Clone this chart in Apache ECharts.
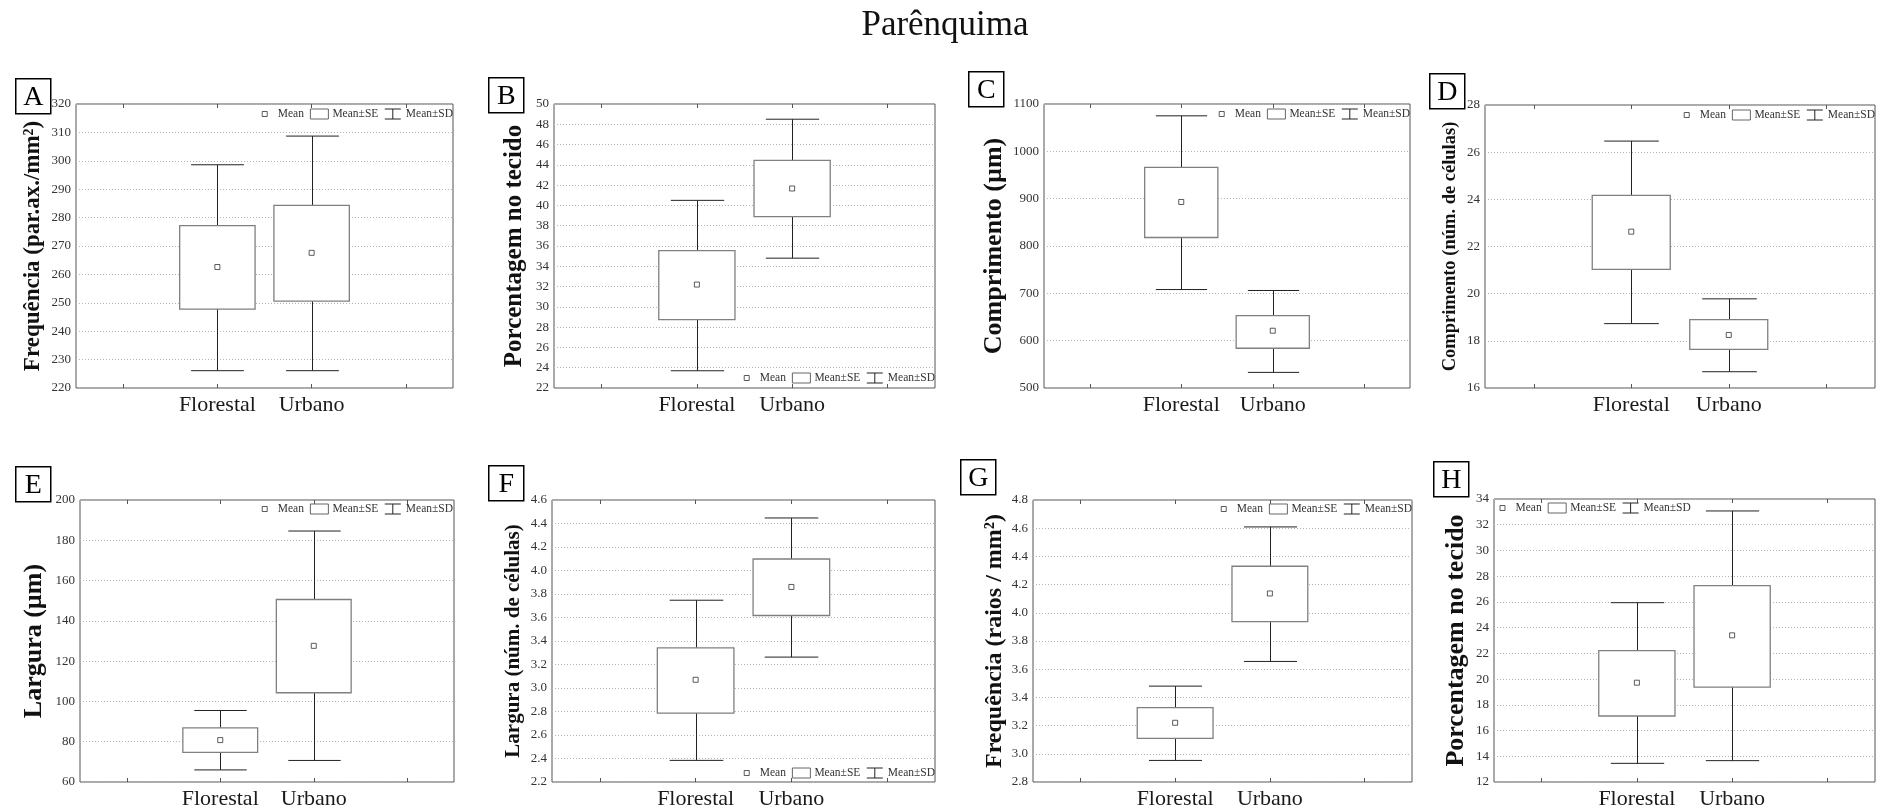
<!DOCTYPE html>
<html>
<head>
<meta charset="utf-8">
<script src="https://cdn.jsdelivr.net/npm/echarts@6/dist/echarts.min.js"></script>
<style>
html,body{margin:0;padding:0;background:#fff;}
#chart{width:1890px;height:811px;}
</style>
</head>
<body>
<div id="chart"></div>
<script>
// ---------------- DATA ----------------
const chartTitle = 'Parênquima';
const categories = ['Florestal', 'Urbano'];
const panelLetters = ['A', 'B', 'C', 'D', 'E', 'F', 'G', 'H'];
const yAxisTitles = [
  'Frequência (par.ax./mm\u00b2)',
  'Porcentagem no tecido',
  'Comprimento (\u00b5m)',
  'Comprimento (núm. de células)',
  'Largura (\u00b5m)',
  'Largura (núm. de células)',
  'Frequência (raios / mm\u00b2)',
  'Porcentagem no tecido'
];
const yMin  = [220, 22, 500, 16, 60, 2.2, 2.8, 12];
const yMax  = [320, 50, 1100, 28, 200, 4.6, 4.8, 34];
const yStep = [10, 2, 100, 2, 20, 0.2, 0.2, 2];
const yDecimals = [0, 0, 0, 0, 0, 1, 1, 0];
const legendNames = ['Mean', 'Mean\u00b1SE', 'Mean\u00b1SD'];
// per panel: [Florestal, Urbano]
const meanVals = [[262.6, 267.6], [32.2, 41.67], [893, 621], [22.63, 18.25], [80.8, 127.6], [3.07, 3.86], [3.22, 4.137], [19.72, 23.4]];
const seLower  = [[247.8, 250.6], [28.75, 38.9], [818, 584], [21.03, 17.64], [74.7, 104.3], [2.787, 3.617], [3.109, 3.938], [17.13, 19.38]];
const seUpper  = [[277.2, 284.3], [35.55, 44.45], [966, 653], [24.17, 18.9], [86.9, 150.6], [3.342, 4.098], [3.327, 4.33], [22.21, 27.26]];
const sdLower  = [[226.1, 226.1], [23.7, 34.8], [708, 533], [18.73, 16.69], [66.0, 70.7], [2.384, 3.263], [2.953, 3.655], [13.45, 13.66]];
const sdUpper  = [[298.6, 308.7], [40.5, 48.5], [1075, 706], [26.47, 19.78], [95.5, 184.6], [3.747, 4.447], [3.48, 4.609], [25.94, 33.07]];

// ---------------- LAYOUT ----------------
const FONT = '"Liberation Serif", "Times New Roman", serif';
const grids = [
  {left: 76,   top: 104, width: 377, height: 284},
  {left: 554,  top: 104, width: 381, height: 284},
  {left: 1044, top: 104, width: 366, height: 284},
  {left: 1485, top: 105, width: 390, height: 283},
  {left: 80,   top: 500, width: 374, height: 282},
  {left: 552,  top: 500, width: 383, height: 282},
  {left: 1033, top: 500, width: 379, height: 282},
  {left: 1494, top: 499, width: 381, height: 283}
];
const titleFont = [23, 25, 26, 18.5, 26, 21, 24, 26];
const titleGap  = [31, 27, 37, 25, 33, 28, 26, 25];
const letterPos = [[15,78],[488,77],[968,71],[1429,73],[15,466],[488,465],[960,459],[1433,461]];
// legend placement: [side, x, top]
const legendPos = [
  {right: 1890-453, top: 108},
  {right: 1890-935, top: 372},
  {right: 1890-1410, top: 108},
  {right: 1890-1875, top: 109},
  {right: 1890-453, top: 503},
  {right: 1890-935, top: 767},
  {right: 1890-1412, top: 503},
  {left: 1493, top: 502}
];

const axisCats = [''].concat(categories, ['']);

function renderWhisker(params, api) {
  const x = api.value(0);
  const lo = api.coord([x, api.value(1)]);
  const sl = api.coord([x, api.value(2)]);
  const sh = api.coord([x, api.value(3)]);
  const hi = api.coord([x, api.value(4)]);
  const band = api.size([1, 0])[0];
  const half = band * 0.28;
  const cx = Math.round(lo[0]) + 0.5;
  const st = {stroke: '#222', lineWidth: 1};
  return {type: 'group', children: [
    {type: 'line', shape: {x1: cx, y1: lo[1], x2: cx, y2: sl[1]}, style: st},
    {type: 'line', shape: {x1: cx, y1: sh[1], x2: cx, y2: hi[1]}, style: st},
    {type: 'line', shape: {x1: cx - half, y1: lo[1], x2: cx + half, y2: lo[1]}, style: st},
    {type: 'line', shape: {x1: cx - half, y1: hi[1], x2: cx + half, y2: hi[1]}, style: st}
  ]};
}
function renderBox(params, api) {
  const x = api.value(0);
  const lo = api.coord([x, api.value(1)]);
  const hi = api.coord([x, api.value(2)]);
  const band = api.size([1, 0])[0];
  const w = band * 0.8;
  return {type: 'rect', shape: {x: lo[0] - w / 2, y: hi[1], width: w, height: lo[1] - hi[1]},
    style: {fill: '#fff', stroke: '#808080', lineWidth: 1.3}};
}

const meanIcon = 'path://M0,0L0,0M6.5,2.5L11.5,2.5L11.5,7.5L6.5,7.5ZM18,10L18,10';
const seIcon = 'path://M0,0L18,0L18,10L0,10Z';
const sdIcon = 'path://M1,0L17,0M9,0L9,10M1,10L17,10';

const option = {
  animation: false,
  backgroundColor: '#fff',
  title: [{text: chartTitle, left: 'center', top: 3,
    textStyle: {fontFamily: FONT, fontSize: 35, fontWeight: 'normal', color: '#111'}}],
  grid: [], xAxis: [], yAxis: [], series: [], legend: [], graphic: []
};

grids.forEach((g, i) => {
  option.grid.push(Object.assign({show: true, borderColor: '#555', borderWidth: 1, backgroundColor: '#fff'}, g));
  const xBase = {type: 'category', gridIndex: i, data: axisCats, boundaryGap: true,
    axisLine: {show: false}, splitLine: {show: false}};
  option.xAxis.push(Object.assign({}, xBase, {position: 'bottom',
    axisTick: {show: true, inside: true, alignWithLabel: true, length: 4, lineStyle: {color: '#555'}},
    axisLabel: {interval: 0, margin: 6, fontFamily: FONT, fontSize: 22, color: '#1a1a1a'}}));
  option.xAxis.push(Object.assign({}, xBase, {position: 'top',
    axisTick: {show: true, inside: true, alignWithLabel: true, length: 4, lineStyle: {color: '#555'}},
    axisLabel: {show: false}}));
  const dec = yDecimals[i];
  option.yAxis.push({type: 'value', gridIndex: i, min: yMin[i], max: yMax[i], interval: yStep[i],
    name: yAxisTitles[i], nameLocation: 'middle', nameGap: titleGap[i],
    nameTextStyle: {fontFamily: FONT, fontWeight: 'bold', fontSize: titleFont[i], color: '#111'},
    axisLine: {show: false}, axisTick: {show: false},
    axisLabel: {margin: 5, fontFamily: FONT, fontSize: 13, color: '#333',
      formatter: v => Number(v).toFixed(dec)},
    splitLine: {show: true, lineStyle: {type: [1, 2], color: '#b5b5b5', width: 1}}});

  const sdData = categories.map((c, k) => [c, sdLower[i][k], seLower[i][k], seUpper[i][k], sdUpper[i][k]]);
  const seData = categories.map((c, k) => [c, seLower[i][k], seUpper[i][k]]);
  const meanData = categories.map((c, k) => [c, meanVals[i][k]]);
  option.series.push({type: 'custom', name: legendNames[2], xAxisIndex: 2 * i, yAxisIndex: i,
    renderItem: renderWhisker, encode: {x: 0, y: [1, 2, 3, 4]}, data: sdData, z: 2});
  option.series.push({type: 'custom', name: legendNames[1], xAxisIndex: 2 * i, yAxisIndex: i,
    renderItem: renderBox, encode: {x: 0, y: [1, 2]}, data: seData, z: 3});
  option.series.push({type: 'scatter', name: legendNames[0], xAxisIndex: 2 * i, yAxisIndex: i,
    symbol: 'rect', symbolSize: 5, data: meanData, z: 4,
    itemStyle: {color: '#fff', borderColor: '#333', borderWidth: 1}});

  option.legend.push(Object.assign({
    orient: 'horizontal', padding: 0, itemWidth: 18, itemHeight: 10, itemGap: 6,
    selectedMode: false,
    textStyle: {fontFamily: FONT, fontSize: 11.5, color: '#333', padding: [0, 0, 0, -1]},
    data: [
      {name: legendNames[0], icon: meanIcon, itemStyle: {color: '#fff', borderColor: '#333', borderWidth: 1}},
      {name: legendNames[1], icon: seIcon, itemStyle: {color: '#fff', borderColor: '#666', borderWidth: 1}},
      {name: legendNames[2], icon: sdIcon, itemStyle: {color: 'transparent', borderColor: '#222', borderWidth: 1}}
    ]}, legendPos[i]));

  option.graphic.push({type: 'group', left: letterPos[i][0], top: letterPos[i][1], children: [
    {type: 'rect', shape: {x: 0, y: 0, width: 35, height: 35}, style: {fill: '#fff', stroke: '#000', lineWidth: 1.5}},
    {type: 'text', x: 17.5, y: 18.5, style: {text: panelLetters[i], font: 'normal 28px ' + FONT,
      fill: '#000', align: 'center', verticalAlign: 'middle'}}
  ]});
});

const chart = echarts.init(document.getElementById('chart'), null, {renderer: 'canvas'});
chart.setOption(option);
</script>
</body>
</html>
